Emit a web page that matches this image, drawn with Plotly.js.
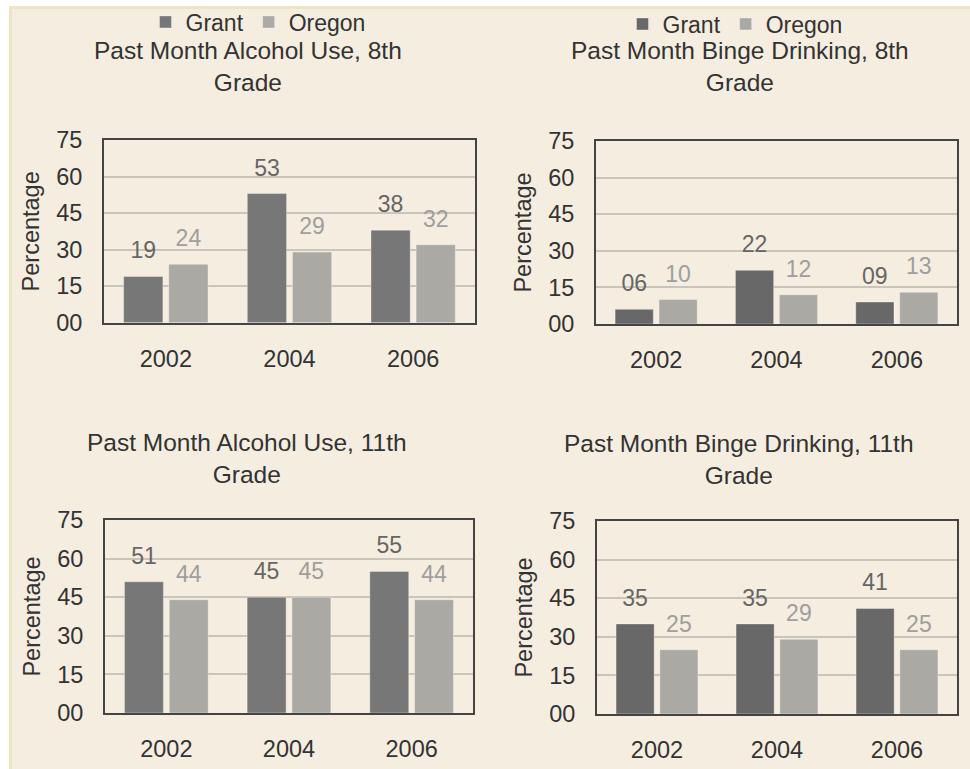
<!DOCTYPE html>
<html>
<head>
<meta charset="utf-8">
<script src="https://cdn.plot.ly/plotly-3.0.1.min.js"></script>
<style>
  html, body { margin: 0; padding: 0; background: #ffffff; }
  #chart { width: 970px; height: 769px; }
</style>
</head>
<body>
<div id="chart"></div>
<script>
// ---- data ----
var years = ['2002', '2004', '2006'];
var alcohol8Grant = [19, 53, 38];
var alcohol8Oregon = [24, 29, 32];
var binge8Grant = [6, 22, 9];
var binge8Oregon = [10, 12, 13];
var alcohol11Grant = [51, 45, 55];
var alcohol11Oregon = [44, 45, 44];
var binge11Grant = [35, 35, 41];
var binge11Oregon = [25, 29, 25];
var yTicks = [0, 15, 30, 45, 60, 75];
var seriesNames = ['Grant', 'Oregon'];
var panelTitles = [
  'Past Month Alcohol Use, 8th<br>Grade',
  'Past Month Binge Drinking, 8th<br>Grade',
  'Past Month Alcohol Use, 11th<br>Grade',
  'Past Month Binge Drinking, 11th<br>Grade'
];
var yTitle = 'Percentage';

// ---- styling ----
var FONT = 'Liberation Sans, Arial, sans-serif';
var W = 970, H = 769;
var panels = [
  {g: alcohol8Grant,  o: alcohol8Oregon,  gc: '#777777', leg: 'legend',  x: [104, 475], y: [140, 322.7], tx: 248, ty: 67},
  {g: binge8Grant,    o: binge8Oregon,    gc: '#686868', leg: 'legend2', x: [596, 957], y: [141, 324],   tx: 740, ty: 67},
  {g: alcohol11Grant, o: alcohol11Oregon, gc: '#777777', leg: null,      x: [105, 473], y: [520, 713],   tx: 247, ty: 458},
  {g: binge11Grant,   o: binge11Oregon,   gc: '#686868', leg: null,      x: [597, 957], y: [521, 714],   tx: 739, ty: 459}
];
var oregonColor = '#aaa9a4';
var grantLabelColor = '#666666';
var oregonLabelColor = '#9e9e9e';

var data = [];
var layout = {
  width: W, height: H,
  margin: {l: 0, r: 0, t: 0, b: 0},
  paper_bgcolor: '#ffffff',
  plot_bgcolor: 'rgba(0,0,0,0)',
  font: {family: FONT, size: 23, color: '#333333'},
  barmode: 'group',
  bargap: 0.27,
  bargroupgap: 0.13,
  scattermode: 'group',
  scattergap: 0.27,
  showlegend: true,
  annotations: [],
  shapes: [{
    type: 'rect', xref: 'paper', yref: 'paper', layer: 'below',
    x0: 10.5 / W, x1: 1.02, y0: -0.02, y1: 1 - 7.5 / H,
    fillcolor: '#f5eddf', line: {color: '#efe3c6', width: 3}
  }],
  legend: {
    orientation: 'h', x: 258 / W, xanchor: 'center', y: 1 - 22 / H, yanchor: 'middle',
    bgcolor: 'rgba(0,0,0,0)', font: {family: FONT, size: 23, color: '#333333'},
    itemclick: false, itemdoubleclick: false
  },
  legend2: {
    orientation: 'h', x: 735 / W, xanchor: 'center', y: 1 - 24 / H, yanchor: 'middle',
    bgcolor: 'rgba(0,0,0,0)', font: {family: FONT, size: 23, color: '#333333'},
    itemclick: false, itemdoubleclick: false
  }
};

panels.forEach(function (p, i) {
  var n = i === 0 ? '' : String(i + 1);
  var xa = 'x' + n, ya = 'y' + n;
  var series = [
    {vals: p.g, color: p.gc, label: grantLabelColor, name: seriesNames[0]},
    {vals: p.o, color: oregonColor, label: oregonLabelColor, name: seriesNames[1]}
  ];
  series.forEach(function (s) {
    data.push({
      type: 'bar', x: years, y: s.vals, name: s.name,
      xaxis: xa, yaxis: ya,
      marker: {color: s.color, line: {color: 'rgba(255,255,255,0.35)', width: 1}},
      showlegend: !!p.leg, legend: p.leg || 'legend',
      hoverinfo: 'skip'
    });
  });
  series.forEach(function (s) {
    data.push({
      type: 'scatter', mode: 'markers+text', x: years, y: s.vals, name: s.name,
      xaxis: xa, yaxis: ya,
      marker: {size: 18, color: 'rgba(0,0,0,0)'},
      texttemplate: '%{y:02d}', textposition: 'top center',
      textfont: {family: FONT, size: 23, color: s.label},
      cliponaxis: false, showlegend: false, hoverinfo: 'skip'
    });
  });

  layout['xaxis' + n] = {
    domain: [p.x[0] / W, p.x[1] / W], anchor: ya, type: 'category',
    showline: true, linecolor: '#444444', linewidth: 2, mirror: true,
    showgrid: false, zeroline: false,
    ticks: 'outside', ticklen: 14, tickcolor: 'rgba(0,0,0,0)',
    tickfont: {family: FONT, size: 23.5, color: '#333333'},
    fixedrange: true
  };
  layout['yaxis' + n] = {
    domain: [1 - p.y[1] / H, 1 - p.y[0] / H], anchor: xa,
    range: [0, 75], tickvals: yTicks, tickformat: '02d',
    showline: true, linecolor: '#444444', linewidth: 2, mirror: true,
    showgrid: true, gridcolor: '#c9c5ba', gridwidth: 2, zeroline: false,
    ticks: 'outside', ticklen: 15, tickcolor: 'rgba(0,0,0,0)',
    tickfont: {family: FONT, size: 23.5, color: '#333333'},
    title: {text: yTitle, font: {family: FONT, size: 23.5, color: '#333333'}, standoff: 10},
    fixedrange: true
  };
  layout.annotations.push({
    text: panelTitles[i], xref: 'paper', yref: 'paper',
    x: p.tx / W, y: 1 - p.ty / H, xanchor: 'center', yanchor: 'middle',
    showarrow: false, font: {family: FONT, size: 24.5, color: '#333333'}
  });
});

Plotly.newPlot('chart', data, layout, {staticPlot: true, displayModeBar: false});
</script>
</body>
</html>
